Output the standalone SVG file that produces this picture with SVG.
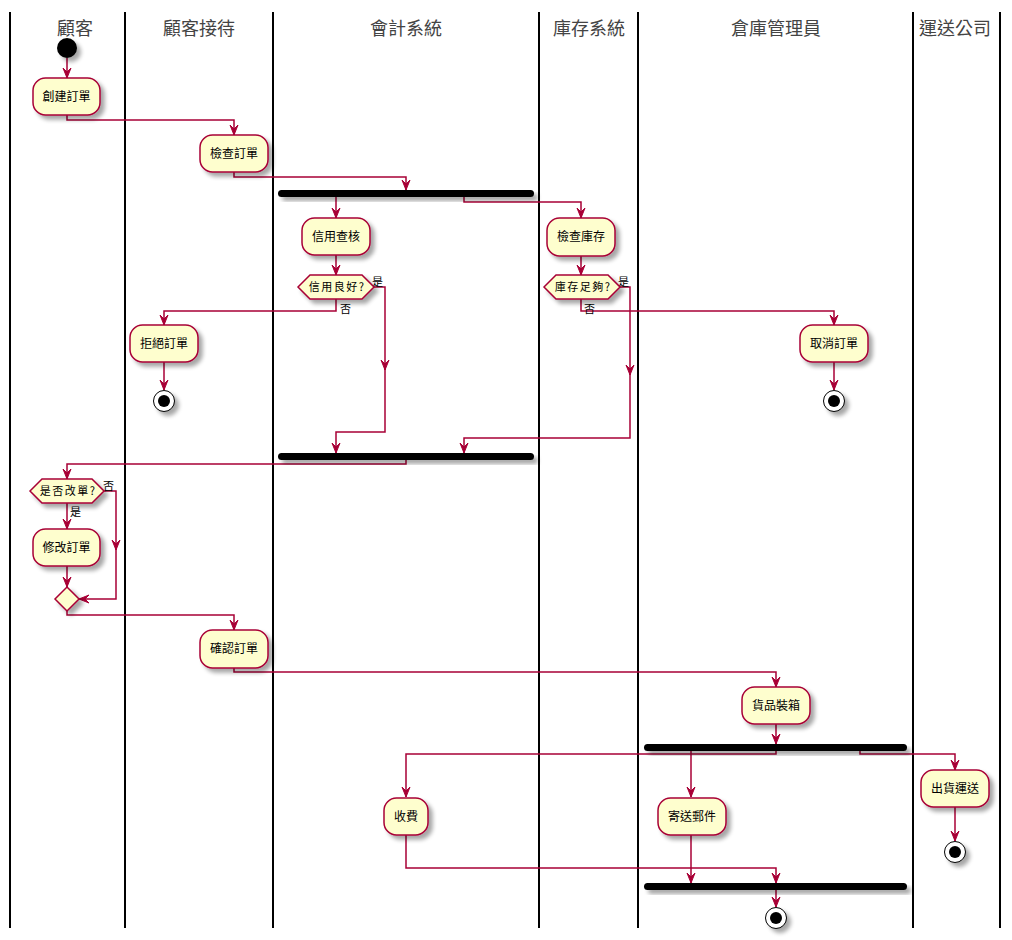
<svg xmlns="http://www.w3.org/2000/svg" width="1012" height="940" viewBox="0 0 1012 940">
<defs>
<filter id="sh" x="-20%" y="-20%" width="160%" height="180%">
<feGaussianBlur in="SourceAlpha" stdDeviation="2"/>
<feOffset dx="4" dy="4" result="b"/>
<feComponentTransfer><feFuncA type="linear" slope="0.35"/></feComponentTransfer>
<feMerge><feMergeNode/><feMergeNode in="SourceGraphic"/></feMerge>
</filter>
<marker id="ar" viewBox="0 0 10 10" refX="10" refY="5" markerWidth="10" markerHeight="10" markerUnits="userSpaceOnUse" orient="auto">
<path d="M0,1 L10,5 L0,9 L4,5 Z" fill="#A80036" stroke="#A80036" stroke-width="1"/>
</marker>
</defs>
<style>
.lane{stroke:#000;stroke-width:2}
.hd{font-family:"Noto Sans CJK TC","Noto Sans CJK SC",sans-serif;font-size:18px;fill:#444;text-anchor:middle}
.act rect{fill:#FEFECE;stroke:#A80036;stroke-width:1.5;filter:url(#sh)}
.act text,.dec text{font-family:"Noto Sans CJK TC","Noto Sans CJK SC",sans-serif;font-size:12px;fill:#000;text-anchor:middle}
.dec text{font-size:11px;letter-spacing:1.5px}
.dec polygon{fill:#FEFECE;stroke:#A80036;stroke-width:1.5;filter:url(#sh)}
.lbl{font-family:"Noto Sans CJK TC","Noto Sans CJK SC",sans-serif;font-size:11px;fill:#000}
.bar{fill:#000;filter:url(#sh)}
.cn path{fill:none;stroke:#A80036;stroke-width:1.5}
.cn .a{marker-end:url(#ar)}
</style>
<rect width="1012" height="940" fill="#fff"/>
<g id="lanes">
<line class="lane" x1="10" y1="12" x2="10" y2="928"/>
<line class="lane" x1="125" y1="12" x2="125" y2="928"/>
<line class="lane" x1="273" y1="12" x2="273" y2="928"/>
<line class="lane" x1="539" y1="12" x2="539" y2="928"/>
<line class="lane" x1="638" y1="12" x2="638" y2="928"/>
<line class="lane" x1="913" y1="12" x2="913" y2="928"/>
<line class="lane" x1="1000" y1="12" x2="1000" y2="928"/>
<text class="hd" x="75" y="35">顧客</text>
<text class="hd" x="199" y="35">顧客接待</text>
<text class="hd" x="406" y="35">會計系統</text>
<text class="hd" x="589" y="35">庫存系統</text>
<text class="hd" x="776" y="35">倉庫管理員</text>
<text class="hd" x="955" y="35">運送公司</text>
</g>
<g id="connectors" class="cn">
<path class="a" d="M67,58 V78"/>
<path class="a" d="M67,115 V120 H234 V135"/>
<path class="a" d="M234,172 V177 H406 V190"/>
<path class="a" d="M336,197 V218"/>
<path class="a" d="M464,197 V202 H581 V218"/>
<path class="a" d="M336,255 V275"/>
<path class="a" d="M581,256 V275"/>
<path class="a" d="M336,299 V311 H164 V325"/>
<path class="a" d="M164,362 V390"/>
<path class="a" d="M374,287 H385 V370"/>
<path class="a" d="M385,365 V432 H336 V453"/>
<path class="a" d="M581,299 V311 H834 V325"/>
<path class="a" d="M834,362 V390"/>
<path class="a" d="M620,287 H630 V375"/>
<path class="a" d="M630,370 V438 H464 V453"/>
<path class="a" d="M406,460 V464 H67 V479"/>
<path class="a" d="M67,503 V529"/>
<path class="a" d="M67,566 V587"/>
<path class="a" d="M104,491 H116 V550"/>
<path class="a" d="M116,545 V599 H79"/>
<path class="a" d="M67,611 V615 H234 V630"/>
<path class="a" d="M234,668 V672 H776 V687"/>
<path class="a" d="M776,724 V744"/>
<path class="a" d="M776,751 V754 H406 V797"/>
<path class="a" d="M691,751 V797"/>
<path class="a" d="M860,751 V754 H955 V770"/>
<path class="a" d="M955,807 V841"/>
<path class="a" d="M406,835 V868 H776 V883"/>
<path class="a" d="M691,835 V883"/>
<path class="a" d="M776,890 V907"/>
<text class="lbl" x="372" y="286">是</text>
<text class="lbl" x="340" y="313">否</text>
<text class="lbl" x="618" y="286">是</text>
<text class="lbl" x="584" y="313">否</text>
<text class="lbl" x="103" y="490">否</text>
<text class="lbl" x="70" y="516">是</text>
</g>
<g id="start"><circle cx="67" cy="48" r="10" fill="#000" filter="url(#sh)"/></g>
<g id="n1" class="act"><rect x="33" y="78" width="67" height="37" rx="12.5"/><text x="66.5" y="101">創建訂單</text></g>
<g id="n2" class="act"><rect x="200" y="135" width="68" height="37" rx="12.5"/><text x="234" y="158">檢查訂單</text></g>
<g id="fork1"><rect class="bar" x="278" y="190" width="256" height="7" rx="3.5"/></g>
<g id="n3" class="act"><rect x="302" y="218" width="68" height="37" rx="12.5"/><text x="336" y="241">信用查核</text></g>
<g id="n4" class="act"><rect x="547" y="218" width="68" height="38" rx="12.5"/><text x="581" y="241">檢查庫存</text></g>
<g id="d1" class="dec"><polygon points="298,287 310,275 362,275 374,287 362,299 310,299"/><text x="337" y="291">信用良好?</text></g>
<g id="d2" class="dec"><polygon points="544,287 556,275 608,275 620,287 608,299 556,299"/><text x="583" y="291">庫存足夠?</text></g>
<g id="n5" class="act"><rect x="130" y="325" width="68" height="37" rx="12.5"/><text x="164" y="348">拒絕訂單</text></g>
<g id="end1"><circle cx="164" cy="401" r="10.5" fill="#fff" stroke="#000" stroke-width="1" filter="url(#sh)"/><circle cx="164" cy="401" r="6" fill="#000"/></g>
<g id="n6" class="act"><rect x="800" y="325" width="68" height="37" rx="12.5"/><text x="834" y="348">取消訂單</text></g>
<g id="end2"><circle cx="834" cy="401" r="10.5" fill="#fff" stroke="#000" stroke-width="1" filter="url(#sh)"/><circle cx="834" cy="401" r="6" fill="#000"/></g>
<g id="join1"><rect class="bar" x="278" y="453" width="256" height="7" rx="3.5"/></g>
<g id="d3" class="dec"><polygon points="30,491 42,479 92,479 104,491 92,503 42,503"/><text x="68" y="495">是否改單?</text></g>
<g id="n7" class="act"><rect x="33" y="529" width="67" height="37" rx="12.5"/><text x="66.5" y="552">修改訂單</text></g>
<g id="m1" class="dec"><polygon points="67,587 79,599 67,611 55,599"/></g>
<g id="n8" class="act"><rect x="200" y="630" width="68" height="38" rx="12.5"/><text x="234" y="653">確認訂單</text></g>
<g id="n9" class="act"><rect x="742" y="687" width="68" height="37" rx="12.5"/><text x="776" y="710">貨品裝箱</text></g>
<g id="fork2"><rect class="bar" x="644" y="744" width="263" height="7" rx="3.5"/></g>
<g id="n10" class="act"><rect x="384" y="798" width="44" height="37" rx="12.5"/><text x="406" y="821">收費</text></g>
<g id="n11" class="act"><rect x="658" y="798" width="68" height="37" rx="12.5"/><text x="692" y="821">寄送郵件</text></g>
<g id="n12" class="act"><rect x="921" y="770" width="68" height="37" rx="12.5"/><text x="955" y="793">出貨運送</text></g>
<g id="end3"><circle cx="955" cy="852" r="10.5" fill="#fff" stroke="#000" stroke-width="1" filter="url(#sh)"/><circle cx="955" cy="852" r="6" fill="#000"/></g>
<g id="join2"><rect class="bar" x="644" y="883" width="263" height="7" rx="3.5"/></g>
<g id="end4"><circle cx="776" cy="918" r="10.5" fill="#fff" stroke="#000" stroke-width="1" filter="url(#sh)"/><circle cx="776" cy="918" r="6" fill="#000"/></g>
</svg>
